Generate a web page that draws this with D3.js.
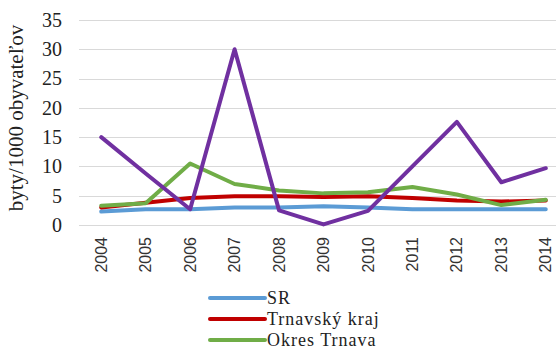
<!DOCTYPE html>
<html>
<head>
<meta charset="utf-8">
<script src="https://cdn.jsdelivr.net/npm/d3@7"></script>
<style>
  body { margin: 0; background: #fff; }
  svg { display: block; }
</style>
</head>
<body>
<div id="chart"></div>
<script>
// data
var years = ['2004','2005','2006','2007','2008','2009','2010','2011','2012','2013','2014'];
var sr     = [2.3, 2.7, 2.7, 3.0, 3.0, 3.2, 3.0, 2.7, 2.7, 2.7, 2.7];
var kraj   = [3.0, 3.8, 4.6, 4.9, 4.9, 4.8, 4.9, 4.6, 4.2, 4.0, 4.2];
var okres  = [3.3, 3.7, 10.5, 7.0, 5.9, 5.4, 5.6, 6.5, 5.2, 3.4, 4.3];
var obec   = [15.0, 8.8, 2.7, 30.0, 2.5, 0.1, 2.4, 10.0, 17.6, 7.3, 9.7];
var yTicks = [0, 5, 10, 15, 20, 25, 30, 35];

var seriesNames = ['SR', 'Trnavský kraj', 'Okres Trnava'];

var series = [
  {name: 'SR', values: sr, color: '#5B9BD5'},
  {name: 'Trnavský kraj', values: kraj, color: '#C00000'},
  {name: 'Okres Trnava', values: okres, color: '#70AD47'},
  {name: '', values: obec, color: '#7030A0'}
];

var serif = '"Liberation Serif", "Times New Roman", serif';
var sans = '"Liberation Sans", Arial, sans-serif';

var width = 556, height = 356;

var svg = d3.select('#chart')
  .append('svg')
  .attr('width', width)
  .attr('height', height);

// plot area runs past the right edge, as in the original crop
var x = d3.scaleBand()
  .domain(years)
  .range([79, 568])
  .padding(0);

var y = d3.scaleLinear()
  .domain([0, 35])
  .range([225, 20]);

// gridlines
svg.append('g')
  .selectAll('line')
  .data(yTicks)
  .enter()
  .append('line')
  .attr('x1', 79)
  .attr('x2', 568)
  .attr('y1', function(d) { return Math.round(y(d)) + 0.5; })
  .attr('y2', function(d) { return Math.round(y(d)) + 0.5; })
  .attr('stroke', '#d9d9d9')
  .attr('stroke-width', 1);

// y axis labels
var yAxis = svg.append('g')
  .attr('transform', 'translate(70,0)')
  .call(d3.axisLeft(y).tickValues(yTicks).tickSize(0).tickPadding(8));
yAxis.select('.domain').remove();
yAxis.selectAll('text')
  .style('font-family', serif)
  .style('font-size', '20px')
  .attr('fill', '#222');

// x axis labels, rotated
var xAxis = svg.append('g')
  .attr('transform', 'translate(0,' + y(0) + ')')
  .call(d3.axisBottom(x).tickSize(0));
xAxis.select('.domain').remove();
xAxis.selectAll('text')
  .style('font-family', sans)
  .style('font-size', '16px')
  .attr('fill', '#333')
  .attr('text-anchor', 'end')
  .attr('dy', '0.35em')
  .attr('transform', 'translate(0,12) rotate(-90)')
  .attr('x', 0)
  .attr('y', 0);

// axis title
svg.append('text')
  .attr('transform', 'translate(23,118) rotate(-90)')
  .attr('text-anchor', 'middle')
  .style('font-family', serif)
  .style('font-size', '21px')
  .attr('fill', '#222')
  .text('byty/1000 obyvateľov');

// lines
var line = d3.line()
  .x(function(d, i) { return x(years[i]) + x.bandwidth() / 2; })
  .y(function(d) { return y(d); });

svg.append('g')
  .selectAll('path')
  .data(series)
  .enter()
  .append('path')
  .attr('d', function(d) { return line(d.values); })
  .attr('fill', 'none')
  .attr('stroke', function(d) { return d.color; })
  .attr('stroke-width', 4)
  .attr('stroke-linejoin', 'round')
  .attr('stroke-linecap', 'round');

// legend (only the first three entries fit in the picture)
var legend = svg.append('g')
  .selectAll('g')
  .data(series.slice(0, seriesNames.length))
  .enter()
  .append('g')
  .attr('transform', function(d, i) { return 'translate(210,' + (298 + i * 21) + ')'; });

legend.append('line')
  .attr('x1', 0)
  .attr('x2', 55)
  .attr('stroke', function(d) { return d.color; })
  .attr('stroke-width', 4)
  .attr('stroke-linecap', 'round');

legend.append('text')
  .attr('x', 57)
  .attr('dy', '0.33em')
  .style('font-family', serif)
  .style('font-size', '18px')
  .style('letter-spacing', '1px')
  .attr('fill', '#222')
  .text(function(d) { return d.name; });
</script>
</body>
</html>
